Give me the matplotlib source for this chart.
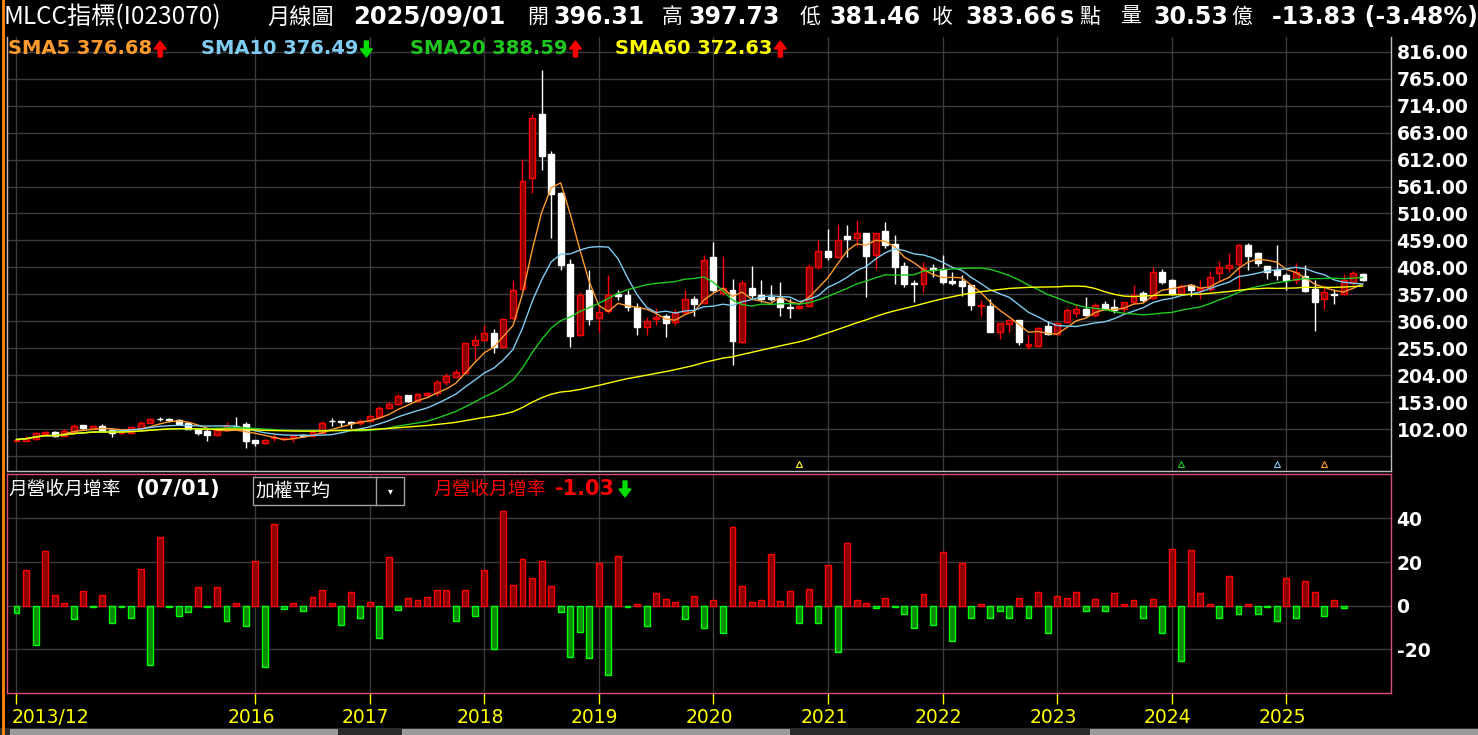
import numpy as np
import pandas as pd
import matplotlib
matplotlib.use('Agg')
import matplotlib.pyplot as plt
import matplotlib.transforms as mtransforms
from matplotlib.lines import Line2D
from matplotlib.patches import Rectangle, FancyArrow

# ---- monthly candles, 2013/12 .. 2025/09 ----
opens = [
    79.4, 80.5, 83, 92.5, 96, 90, 97.6, 110, 102.6, 108,
    101, 94.4, 94.4, 105, 114.6, 122, 120.5, 119, 113, 102,
    98, 91, 100, 109, 111.5, 81, 75.5, 86, 84, 85,
    90.5, 90, 95.7, 118.5, 118, 115.5, 113.5, 118, 125, 141.7,
    149, 167, 155.5, 167.5, 170, 191, 201.5, 209, 262, 270,
    284, 257.5, 313, 368, 577, 699, 623, 548, 414, 281,
    366, 312, 325.5, 358, 355, 334, 296, 311, 316, 305,
    324, 347.5, 341, 427, 360, 364.5, 267, 369.6, 356, 352,
    350, 334, 331, 335, 409, 440, 428, 466.5, 463, 474,
    432, 476, 453, 410, 379, 377, 406, 405, 383, 383,
    374, 335, 336, 286, 301, 308, 260, 259.5, 296.5, 283,
    305, 322, 330, 318, 339.4, 334, 330, 342.5, 359, 350,
    400, 384.7, 358, 374.6, 365, 366.4, 398, 407.6, 415, 451,
    434.5, 411, 404, 393, 383.4, 391.6, 366.4, 349, 358, 357.6,
    379, 396.31]
highs = [
    83, 89, 97, 98, 99, 102, 111, 110.5, 108, 111,
    102, 99, 108, 118, 123.5, 125, 123, 121.5, 116, 105,
    103, 102, 115, 124.7, 115, 81, 83, 92.5, 87, 91,
    93, 98, 118, 123, 118.5, 118, 121, 129, 145, 154,
    169, 167.5, 170, 172.5, 195, 208.5, 215.4, 266, 279.5, 299.5,
    291, 313, 385, 613, 699, 782, 629, 550, 423, 362,
    404, 335, 393, 365, 366, 340, 315, 332, 319, 329,
    364.5, 354, 431, 456, 429, 387, 383.5, 410, 385, 374,
    380, 349, 337, 415, 460, 481, 491, 489, 497, 474,
    474, 493.6, 470, 418, 383.5, 419, 415, 431, 400, 393,
    374, 346, 349, 302, 309, 308, 281.5, 295, 306.6, 305,
    332, 339, 352.6, 341, 344, 347.5, 343, 374, 363, 408.6,
    405.5, 387, 376, 376, 383.4, 402, 420.6, 436, 452.7, 454.6,
    437.6, 411, 449.5, 398, 415.5, 412, 385, 375, 366.4, 395,
    401, 397.73]
lows = [
    79, 80, 82, 92, 88, 89, 97, 102, 102, 98,
    88, 93, 93, 104, 114, 117.8, 116, 110, 102, 92,
    80, 90, 99, 107, 67, 70.5, 75, 80, 82, 77,
    88, 89, 95, 108, 108, 105, 110, 117, 124, 141,
    148, 153, 154, 164, 165, 186, 200, 208, 232, 268,
    247, 255, 310, 366, 549, 592, 463, 403, 257.5, 279,
    300, 285, 322, 347, 325, 281, 280, 300, 276, 300,
    320, 316, 338, 362, 355, 223.5, 265, 350, 343, 344,
    317, 312, 330, 333, 405, 422, 426, 427.5, 448, 352,
    405, 445, 377, 371, 342.5, 361, 390, 376, 374, 354,
    327, 316, 285, 272, 286, 261, 254, 258, 281, 281,
    303, 313.5, 316, 315, 328, 322, 319, 340, 343, 348,
    377, 355, 357, 354, 349, 364, 381.5, 400, 364.5, 404,
    411, 387, 385, 365, 376, 361, 288, 330, 339, 355,
    375, 381.46]
closes = [
    82.5, 85.6, 94, 97.6, 90, 99, 107.7, 105, 107.7, 99.5,
    94.5, 97.6, 105.8, 114.6, 121, 121, 119.6, 112, 103, 94,
    90.7, 100.7, 107.7, 108, 80, 75.5, 81.5, 88, 85.5, 90,
    90, 97, 113, 117.5, 115, 114, 117, 127, 142, 149,
    164, 156, 169, 170, 191.5, 203, 210.4, 264.5, 271, 284,
    257.5, 311, 366, 572, 691, 618, 546.5, 412, 278, 356,
    310, 324, 356.4, 354, 333, 295, 307, 315, 302, 322,
    347.5, 338, 422.5, 366, 370, 269, 379, 355, 348, 348,
    333, 331, 336, 409, 439.5, 427.5, 460, 461, 473.5, 429,
    473.5, 449.5, 408.6, 376.5, 377, 407, 404, 380, 378, 373,
    337, 336.5, 286, 302, 309, 267, 263, 294, 283, 303,
    327, 328.7, 318.6, 337, 330, 327.5, 342.5, 356, 346, 400,
    380, 357, 372.7, 365, 369.6, 390.4, 408, 412, 451, 429.5,
    416, 400, 393.5, 383.4, 399, 363, 342.5, 362, 356, 384.7,
    397.49, 383.66]

# ---- monthly revenue MoM %, 2013/12 .. 2025/07 ----
mom = [
    -3.5,
    16.4, -18.1, 25, 4.8, 1.1, -6.3, 6.6, -0.5, 4.8, -8.1, -0.5, -5.4,
    16.7, -27, 31.5, -0.5, -4.5, -3.1, 8.4, -0.5, 8.4, -7.2, 1.1, -9.5,
    20.4, -28, 37.5, -1.7, 1.1, -2.6, 3.8, 7.1, 1.1, -8.6, 6.1, -5.8,
    1.5, -14.6, 22.3, -2.1, 3.4, 2.5, 3.8, 7.1, 7.1, -6.8, 7.1, -4.5,
    16.3, -19.7, 43.5, 9.4, 21.3, 12.6, 20.4, 8.9, -3.1, -23.3, -11.8, -23.8,
    19.5, -31.6, 22.7, -0.8, 0.6, -9.5, 5.7, 2.9, 1.5, -6.3, 4.3, -10.4,
    2.5, -12.3, 36.1, 8.9, 1.5, 2.5, 23.7, 2.0, 6.6, -7.7, 7.5, -7.7,
    18.6, -21, 28.7, 2.5, 1.1, -1.2, 3.4, -0.5, -4, -10, 5.2, -8.6,
    24.6, -16, 19.5, -5.4, 0.6, -5.8, -2.6, -5.8, 3.4, -5.8, 6.1, -12.3,
    4.3, 3.4, 6.1, -2.6, 2.9, -2.6, 5.7, 0.6, 2.5, -5.8, 2.9, -12.3,
    26, -25.2, 25.5, 5.7, 0.6, -5.8, 13.5, -3.7, 0.6, -3.7, -0.5, -6.8,
    12.6, -5.4, 11.2, 6.1, -4.9, 2.5, -1.03]

year_pos = [0, 25, 37, 49, 61, 73, 85, 97, 109, 121, 133]
year_labels = ['2013/12', '2016', '2017', '2018', '2019', '2020',
               '2021', '2022', '2023', '2024', '2025']
price_ticks = [102, 153, 204, 255, 306, 357, 408, 459, 510, 561, 612, 663, 714, 765, 816]
mom_ticks = [-20, 0, 20, 40]
sma_periods = [5, 10, 20, 60]
sma_colors = ['#FF9A2E', '#7FCBF2', '#1FC81F', '#FFFF00']
sma_legend = ['376.68', '376.49', '388.59', '372.63']
sma_up = [True, False, True, True]
signal_pos = [82, 122, 132, 137]
signal_colors = ['#FFFF00', '#1FC81F', '#7FCBF2', '#FF9A2E']

W, H = 1478, 735
CJK = ['Noto Sans CJK TC', 'DejaVu Sans']
UP_C, DN_C = '#FF0000', '#00E000'


def fx(x):
    return x / W


def fy(y):
    return 1 - y / H


def arrow(xc, yc, is_up):
    # thick arrow glyph drawn in pixel units (top-left origin)
    ln = 16
    y0 = H - (yc + ln / 2) if is_up else H - (yc - ln / 2)
    dy = ln if is_up else -ln
    fig.add_artist(FancyArrow(xc, y0, 0, dy, width=4, head_width=12, head_length=8,
                              length_includes_head=True, color=UP_C if is_up else DN_C,
                              transform=mtransforms.IdentityTransform()))


fig = plt.figure(figsize=(W / 100, H / 100), dpi=100, facecolor='black')

ax = fig.add_axes([fx(7), fy(471), (1391 - 7) / W, (471 - 37) / H], facecolor='black')
ax2 = fig.add_axes([fx(7), fy(693), (1391 - 7) / W, (693 - 474) / H], facecolor='black')

o = np.array(opens)
h = np.array(highs)
lo = np.array(lows)
c = np.array(closes)
x = np.arange(len(c))
up = c >= o

grid_c = '#3C3C3C'
for a in (ax, ax2):
    for p in year_pos:
        a.axvline(p, color=grid_c, lw=1.0, zorder=0)
for t in price_ticks + [51]:
    ax.axhline(t, color=grid_c, lw=1.0, zorder=0)
for t in mom_ticks:
    ax2.axhline(t, color=grid_c, lw=1.0, zorder=0)

# candles
wick_colors = np.where(up, '#FF0000', '#FFFFFF')
ax.vlines(x, lo, h, colors=wick_colors, lw=1.0, zorder=2)
body_lo = np.minimum(o, c)
body_h = np.maximum(np.abs(c - o), 0.8)
ax.bar(x[up], body_h[up], bottom=body_lo[up], width=0.62,
       color='#8B0000', edgecolor='#FF0000', linewidth=1.0, zorder=3)
ax.bar(x[~up], body_h[~up], bottom=body_lo[~up], width=0.62,
       color='#FFFFFF', edgecolor='#FFFFFF', linewidth=1.0, zorder=3)

# moving averages
cs = pd.Series(c)
for n, col in zip(sma_periods, sma_colors):
    sma = cs.rolling(n, min_periods=1).mean()
    ax.plot(x, sma, color=col, lw=1.0, zorder=4)

# signal markers near the bottom
for p, col in zip(signal_pos, signal_colors):
    ax.plot([p], [36], marker='^', ms=5, mfc='none', mec=col, mew=0.8, zorder=5)

ax.set_xlim(-0.995, 143.97)
ax.set_ylim(23, 843.8)
ax.yaxis.tick_right()
ax.set_yticks(price_ticks)
ax.set_yticklabels([f'{t:.2f}' for t in price_ticks])
ax.tick_params(axis='y', length=0, pad=4, labelsize=13.5, labelcolor='white')
for lbl in ax.get_yticklabels():
    lbl.set_fontweight('bold')
ax.set_xticks([])
for s in ('left', 'right', 'bottom'):
    ax.spines[s].set_color('#BDBDBD')
    ax.spines[s].set_linewidth(1.0)
ax.spines['top'].set_visible(False)

# revenue MoM bars
m = np.array(mom)
xm = np.arange(len(m))
pos = m >= 0
ax2.bar(xm[pos], m[pos], width=0.62, color='#8B0000', edgecolor='#FF0000', linewidth=1.0, zorder=3)
ax2.bar(xm[~pos], m[~pos], width=0.62, color='#078A07', edgecolor='#00FF00', linewidth=1.0, zorder=3)
ax2.set_xlim(-0.995, 143.97)
ax2.set_ylim(-39.95, 60.3)
ax2.yaxis.tick_right()
ax2.set_yticks(mom_ticks)
ax2.set_yticklabels([str(t) for t in mom_ticks])
ax2.tick_params(axis='y', length=0, pad=4, labelsize=13.5, labelcolor='white')
for lbl in ax2.get_yticklabels():
    lbl.set_fontweight('bold')
ax2.set_xticks(year_pos)
ax2.set_xticklabels(year_labels)
ax2.tick_params(axis='x', length=8, width=1.0, color='#FFFF00', pad=3,
                labelsize=13.5, labelcolor='#FFFF00')
shift = mtransforms.ScaledTranslation(-4 / 100, 0, fig.dpi_scale_trans)
for i, lbl in enumerate(ax2.get_xticklabels()):
    if i == 0:
        lbl.set_ha('left')
        lbl.set_transform(lbl.get_transform() + mtransforms.ScaledTranslation(-5 / 100, 0, fig.dpi_scale_trans))
    else:
        lbl.set_transform(lbl.get_transform() + shift)
for s in ax2.spines.values():
    s.set_color('#D9507F')
    s.set_linewidth(1.0)

# left orange edge line
fig.add_artist(Line2D([fx(2.5), fx(2.5)], [0, 1], color='#FF8C00', lw=2.0))

# header
hy = fy(17)
head = [
    (4, 'MLCC指標(I023070)', 'normal', CJK, 17.5),
    (267, '月線圖', 'normal', CJK, 16),
    (353, '2025/09/01', 'bold', ['DejaVu Sans'], 17.5),
    (527, '開', 'normal', CJK, 15),
    (553, f'{opens[-1]:.2f}', 'bold', ['DejaVu Sans'], 17),
    (662, '高', 'normal', CJK, 15),
    (688, f'{highs[-1]:.2f}', 'bold', ['DejaVu Sans'], 17),
    (800, '低', 'normal', CJK, 15),
    (829, f'{lows[-1]:.2f}', 'bold', ['DejaVu Sans'], 17),
    (932, '收', 'normal', CJK, 15),
    (965, f'{closes[-1]:.2f}', 'bold', ['DejaVu Sans'], 17),
    (1060, 's', 'bold', ['DejaVu Sans'], 17),
    (1079, '點', 'normal', CJK, 15),
    (1120, '量', 'normal', CJK, 15),
    (1153, '30.53', 'bold', ['DejaVu Sans'], 17),
    (1231, '億', 'normal', CJK, 15),
    (1272, f'{closes[-1] - closes[-2]:.2f} ({(closes[-1] - closes[-2]) / closes[-2] * 100:.2f}%)',
     'bold', ['DejaVu Sans'], 17),
]
for xp, txt, wt, fam, size in head:
    fig.text(fx(xp), hy, txt, color='white', fontsize=size, fontweight=wt,
             family=fam, ha='left', va='center')

# SMA legend, arrow placed right after each label
renderer = fig.canvas.get_renderer()
leg_x = [8, 201, 410, 615]
for xp, n, col, val, u in zip(leg_x, sma_periods, sma_colors, sma_legend, sma_up):
    t = fig.text(fx(xp), fy(49), f'SMA{n} {val}', color=col, fontsize=14,
                 fontweight='bold', ha='left', va='center')
    bb = t.get_window_extent(renderer)
    arrow(bb.x1 + 8, 49, u)

# lower panel header
fig.text(fx(8), fy(489), '月營收月增率', color='white', fontsize=13.5, family=CJK,
         ha='left', va='center')
fig.text(fx(135), fy(489), '(07/01)', color='white', fontsize=15, fontweight='bold',
         ha='left', va='center')
fig.add_artist(Rectangle((fx(253), fy(505)), (404 - 253) / W, (505 - 477) / H,
                         facecolor='black', edgecolor='#A0A0A0', lw=1.0))
fig.add_artist(Line2D([fx(376), fx(376)], [fy(477), fy(505)], color='#A0A0A0', lw=1.0))
fig.text(fx(255), fy(491), '加權平均', color='white', fontsize=13.5, family=CJK,
         ha='left', va='center')
fig.text(fx(390), fy(491), '▾', color='white', fontsize=7, ha='center', va='center')
fig.text(fx(433), fy(489), '月營收月增率', color='#FF0000', fontsize=13.5, family=CJK,
         ha='left', va='center')
t = fig.text(fx(555), fy(489), f'{mom[-1]:.2f}', color='#FF0000', fontsize=15, fontweight='bold',
             ha='left', va='center')
arrow(t.get_window_extent(renderer).x1 + 10, 489, False)

# bottom scroll strip
fig.add_artist(Rectangle((0, 0), 1, 7 / H, facecolor='#2A2A2A', edgecolor='none'))
for x0, x1 in [(10, 338), (402, 790), (1090, 1478)]:
    fig.add_artist(Rectangle((fx(x0), 0), (x1 - x0) / W, 6 / H,
                             facecolor='#9A9A9A', edgecolor='none'))

fig.savefig('out.png', dpi=100, facecolor='black')
